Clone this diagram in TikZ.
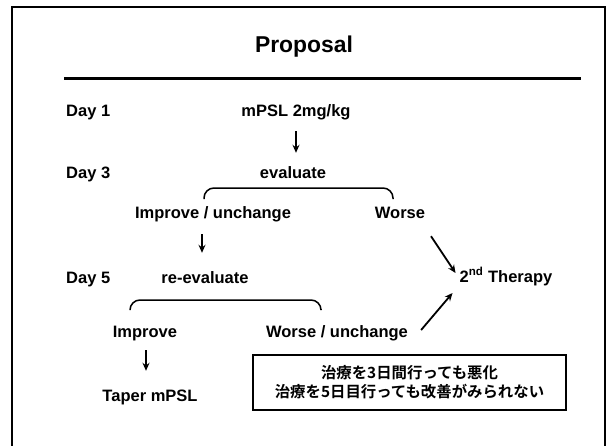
\documentclass[tikz,border=0pt]{standalone}
\usepackage{fontspec}
\setmainfont{Liberation Sans}
\newfontfamily\cjk{Noto Sans CJK JP}[BoldFont={* Bold}]
\usetikzlibrary{arrows.meta}
\begin{document}
\begin{tikzpicture}[x=1pt,y=-1pt,
  lbl/.style={font=\fontsize{16.5}{18}\selectfont\bfseries, inner sep=0pt, text height=12pt, text depth=0pt},
  arr/.style={-{Stealth[length=8pt,width=7pt]}, line width=1.8pt},
  brc/.style={line width=1.5pt, rounded corners=10pt}]
\useasboundingbox (0,0) rectangle (611,445);
% frame
\coordinate (fbl) at (12,450); \coordinate (ftl) at (12,7);
\coordinate (ftr) at (605,7);  \coordinate (fbr) at (605,450);
\draw[line width=1.6pt] (fbl) -- (ftl) -- (ftr) -- (fbr);
% title and rule
\node[font=\fontsize{22.9}{25}\selectfont\bfseries, inner sep=0pt] (title) at (304,47) {Proposal};
\coordinate (rl) at (64,78); \coordinate (rr) at (581,78);
\draw[line width=3pt] (rl) -- (rr);
% day labels
\node[lbl, anchor=west] (d1) at (66,110) {Day 1};
\node[lbl, anchor=west] (d3) at (66,172) {Day 3};
\node[lbl, anchor=west] (d5) at (66,277) {Day 5};
% flow nodes
\node[lbl] (mpsl) at (296,110) {mPSL 2mg/kg};
\node[lbl] (eval) at (293,172) {evaluate};
\node[lbl] (iu) at (213,212) {Improve / unchange};
\node[lbl] (worse) at (400,212) {Worse};
\node[lbl] (reeval) at (205,277) {re-evaluate};
\node[lbl] (therapy) at (506,276) {2\textsuperscript{nd} Therapy};
\node[lbl] (imp) at (145,331) {Improve};
\node[lbl] (wu) at (337,331) {Worse / unchange};
\node[lbl] (taper) at (150,395) {Taper mPSL};
\node[draw, line width=1.4pt, minimum width=313pt, minimum height=55pt, inner sep=0pt,
      align=center, font=\cjk\bfseries\fontsize{15.4}{19}\selectfont] (note) at (409.5,382.5)
      {治療を3日間行っても悪化\\治療を5日目行っても改善がみられない};
% braces
\coordinate (b1l) at (204,199); \coordinate (b1r) at (393,199);
\draw[brc] (b1l) -- (204,188) -- (393,188) -- (b1r);
\coordinate (b2l) at (130,309); \coordinate (b2r) at (321,309);
\draw[brc] (b2l) -- (130,300) -- (321,300) -- (b2r);
% arrows
\draw[arr] ([yshift=-15pt]mpsl.south) -- ([yshift=13pt]mpsl.south |- eval.north);
\draw[arr] ([xshift=-11pt,yshift=-16pt]iu.south) -- ([xshift=-11pt,yshift=18pt]iu.south |- reeval.north);
\draw[arr] ([shift={(31pt,-18pt)}]worse.south) -- ([shift={(-4pt,3pt)}]therapy.west);
\draw[arr] ([shift={(13pt,1pt)}]wu.east) -- ([shift={(-7pt,-17pt)}]therapy.west);
\draw[arr] ([xshift=1pt,yshift=-13pt]imp.south) -- ([xshift=1pt,yshift=18pt]imp.south |- taper.north);
\end{tikzpicture}
\end{document}
